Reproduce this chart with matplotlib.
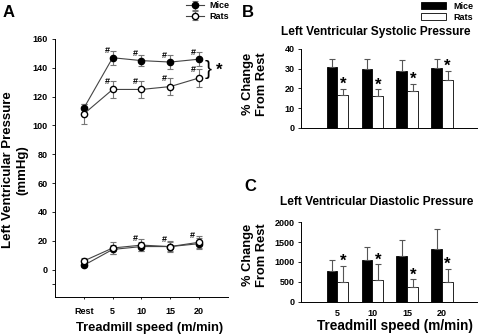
import numpy as np
import matplotlib.pyplot as plt

plt.rcParams['font.family'] = ['Liberation Sans', 'DejaVu Sans']
plt.rcParams['font.weight'] = 'bold'

# panel A: absolute pressure
speeds = ["Rest", "5", "10", "15", "20"]
mice_sys = [112, 147, 145, 144, 146]
mice_sys_err = [3, 5, 4, 5, 5]
rats_sys = [108, 125, 125, 127, 133]
rats_sys_err = [7, 6, 6, 6, 6]
mice_dia = [3, 14, 16, 16, 18]
mice_dia_err = [1, 3, 3, 3, 4]
rats_dia = [6, 15, 17, 16, 19]
rats_dia_err = [2, 4, 4, 4, 4]

# panels B and C: % change from rest
bar_speeds = ["5", "10", "15", "20"]
mice_sys_pct = [30.6, 29.8, 28.8, 30.2]
mice_sys_pct_err = [4.3, 5.1, 5.6, 4.7]
rats_sys_pct = [16.6, 16.2, 18.7, 24.2]
rats_sys_pct_err = [3.1, 3.4, 3.5, 4.6]
mice_dia_pct = [780, 1040, 1150, 1330]
mice_dia_pct_err = [270, 330, 400, 500]
rats_dia_pct = [485, 545, 360, 495]
rats_dia_pct_err = [420, 395, 200, 336]

fig = plt.figure(figsize=(4.79, 3.35), dpi=100)

# ---- A ----
axA = fig.add_axes([0.1148, 0.1134, 0.3612, 0.7702])
x = np.arange(len(speeds))
eb = dict(ecolor='#777777', elinewidth=0.8, capsize=2.2, capthick=0.8)
axA.errorbar(x, mice_sys, yerr=mice_sys_err, color='#444444', lw=0.8, marker='o',
             ms=4.5, mfc='black', mec='black', label='Mice', **eb)
axA.errorbar(x, rats_sys, yerr=rats_sys_err, color='#444444', lw=0.8, marker='o',
             ms=4.5, mfc='white', mec='black', label='Rats', **eb)
axA.errorbar(x, mice_dia, yerr=mice_dia_err, color='#444444', lw=0.8, marker='o',
             ms=4.5, mfc='black', mec='black', **eb)
axA.errorbar(x, rats_dia, yerr=rats_dia_err, color='#444444', lw=0.8, marker='o',
             ms=4.5, mfc='white', mec='black', **eb)
for i in range(1, 5):
    axA.text(x[i] - 0.2, mice_sys[i] + 3, '#', fontsize=6.5, ha='center')
    axA.text(x[i] - 0.2, rats_sys[i] + 4, '#', fontsize=6.5, ha='center')
for i in range(2, 5):
    axA.text(x[i] - 0.22, max(mice_dia[i], rats_dia[i]) + 3, '#', fontsize=6.5, ha='center')
axA.text(4.32, 139, '}', fontsize=15, fontweight='normal', ha='center', va='center')
axA.text(4.68, 138, '*', fontsize=12, ha='center', va='center')
axA.set_xlim(-1, 5)
axA.set_ylim(-19, 160)
axA.set_yticks([-10, 0, 20, 40, 60, 80, 100, 120, 140, 160])
axA.set_yticklabels(['', '0', '20', '40', '60', '80', '100', '120', '140', '160'])
axA.set_xticks(x)
axA.set_xticklabels(speeds)
axA.tick_params(labelsize=6.5, length=2.5, width=0.6, pad=3)
axA.tick_params(axis='x', length=1.5, pad=6)
for s in ['top', 'right']:
    axA.spines[s].set_visible(False)
for s in ['left', 'bottom']:
    axA.spines[s].set_linewidth(0.7)
axA.legend(loc='upper right', bbox_to_anchor=(1.03, 1.16), frameon=False, fontsize=6.5,
           handlelength=2.0, labelspacing=0.2, borderaxespad=0, handletextpad=0.6)
fig.text(15.5 / 479, 1 - 170 / 335, 'Left Ventricular Pressure\n(mmHg)', fontsize=9.5,
         rotation=90, ha='center', va='center', linespacing=1.3)
fig.text(150 / 479, 1 - 328 / 335, 'Treadmill speed (m/min)', fontsize=9.3,
         ha='center', va='center')
fig.text(0.005, 0.95, 'A', fontsize=12, fontweight='bold')

# ---- B and C ----
bx = np.arange(1, len(bar_speeds) + 1)
w = 0.31
beb = dict(ecolor='#555555', elinewidth=0.8, capsize=2, capthick=0.8)


def bar_panel(ax, mice, mice_err, rats, rats_err, star_off):
    ax.bar(bx - w / 2, mice, w, color='black', edgecolor='black', lw=0.6, label='Mice',
           yerr=[np.zeros(len(mice)), mice_err], error_kw=beb)
    ax.bar(bx + w / 2, rats, w, color='white', edgecolor='black', lw=0.6, label='Rats',
           yerr=[np.zeros(len(rats)), rats_err], error_kw=beb)
    for i in range(len(bx)):
        ax.text(bx[i] + w / 2, rats[i] + rats_err[i] + star_off, '*', fontsize=12,
                ha='center', va='center')
    ax.set_xlim(-0.05, 5.0)
    for s in ['top', 'right']:
        ax.spines[s].set_visible(False)
    for s in ['left', 'bottom']:
        ax.spines[s].set_linewidth(0.7)
    ax.tick_params(axis='y', labelsize=6.5, length=2.5, width=0.6, pad=2)


axB = fig.add_axes([0.628, 0.618, 0.368, 0.236])
bar_panel(axB, mice_sys_pct, mice_sys_pct_err, rats_sys_pct, rats_sys_pct_err, 2.2)
axB.set_ylim(0, 40)
axB.set_yticks([0, 10, 20, 30, 40])
axB.set_xticks([])
axB.legend(loc='upper right', bbox_to_anchor=(1.0, 1.64), frameon=False, fontsize=6.5,
           handlelength=2.8, handleheight=0.8, labelspacing=0.2, borderaxespad=0)
fig.text(376 / 479, 1 - 32 / 335, 'Left Ventricular Systolic Pressure', fontsize=8.6,
         ha='center', va='center')
fig.text(255 / 479, 1 - 84 / 335, '% Change\nFrom Rest', fontsize=9.3, rotation=90,
         ha='center', va='center', linespacing=1.2)
fig.text(0.505, 0.95, 'B', fontsize=12, fontweight='bold')

axC = fig.add_axes([0.628, 0.0994, 0.368, 0.2376])
bar_panel(axC, mice_dia_pct, mice_dia_pct_err, rats_dia_pct, rats_dia_pct_err, 110)
axC.set_ylim(0, 2000)
axC.set_yticks([0, 500, 1000, 1500, 2000])
axC.set_xticks(bx)
axC.set_xticklabels(bar_speeds)
axC.tick_params(axis='x', labelsize=6.5, length=0, pad=5)
fig.text(377 / 479, 1 - 202 / 335, 'Left Ventricular Diastolic Pressure', fontsize=8.6,
         ha='center', va='center')
fig.text(255 / 479, 1 - 255 / 335, '% Change\nFrom Rest', fontsize=9.3, rotation=90,
         ha='center', va='center', linespacing=1.2)
fig.text(395 / 479, 1 - 326 / 335, 'Treadmill speed (m/min)', fontsize=9.8,
         ha='center', va='center')
fig.text(0.51, 0.43, 'C', fontsize=12, fontweight='bold')

fig.savefig('out.png', dpi=100)
